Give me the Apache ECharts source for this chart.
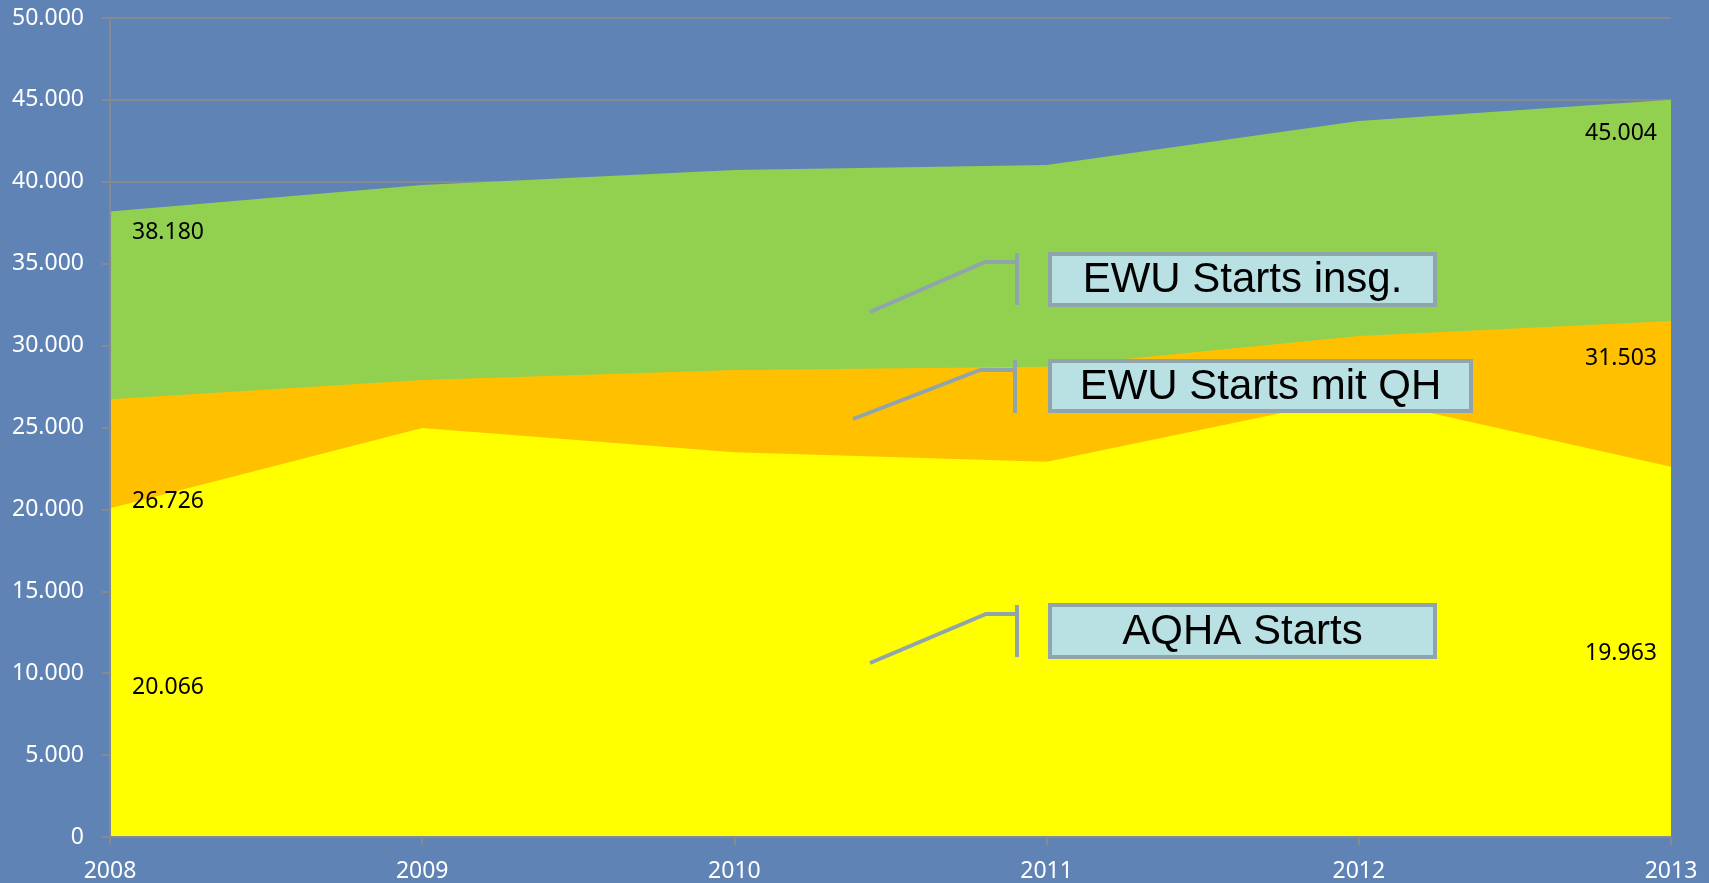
<!DOCTYPE html>
<html>
<head>
<meta charset="utf-8">
<script src="https://cdn.jsdelivr.net/npm/echarts@6/dist/echarts.min.js"></script>
<style>
html,body{margin:0;padding:0;background:#5f83b5;}
#chart{width:1709px;height:883px;}
</style>
</head>
<body>
<div id="chart"></div>
<script>
// ---- data ----
const years = ['2008', '2009', '2010', '2011', '2012', '2013'];
const ewuTotal = [38180, 39810, 40720, 41030, 43710, 45004];
const ewuQH = [26726, 27900, 28510, 28710, 30590, 31503];
const aqha = [20066, 24970, 23490, 22910, 26860, 22600];
const seriesNames = ['EWU Starts insg.', 'EWU Starts mit QH', 'AQHA Starts'];
const firstLabels = [38180, 26726, 20066];
const lastLabels = [45004, 31503, 19963];

function fmt(v) { return String(v).replace(/\B(?=(\d{3})+(?!\d))/g, '.'); }

const chart = echarts.init(document.getElementById('chart'));
const axisGray = '#858a92';
const labelFont = '"Noto Sans", "Open Sans", sans-serif';
const boxFont = '"Liberation Sans", Arial, sans-serif';

const option = {
  backgroundColor: '#5f83b5',
  animation: false,
  grid: { left: 110, right: 38, top: 18, bottom: 46, containLabel: false },
  xAxis: {
    type: 'category',
    data: years,
    boundaryGap: false,
    z: 10,
    axisLine: { show: true, lineStyle: { color: axisGray, width: 2 } },
    axisTick: { show: true, length: 8, lineStyle: { color: axisGray, width: 2 } },
    axisLabel: { color: '#ffffff', fontSize: 23, fontFamily: labelFont, margin: 23 },
    splitLine: { show: false }
  },
  yAxis: [{
    type: 'value',
    min: 0, max: 50000, interval: 5000,
    axisLine: { show: false },
    axisTick: { show: true, length: 8, lineStyle: { color: axisGray, width: 2 } },
    axisLabel: { color: '#ffffff', fontSize: 23, fontFamily: labelFont, margin: 26, formatter: fmt },
    splitLine: { show: true, lineStyle: { color: axisGray, width: 2 } }
  }, {
    type: 'value', position: 'left',
    min: 0, max: 50000, interval: 5000, z: 10,
    axisLine: { show: true, lineStyle: { color: axisGray, width: 2 } },
    axisTick: { show: false }, axisLabel: { show: false }, splitLine: { show: false }
  }],
  series: [
    { name: seriesNames[0], type: 'line', data: ewuTotal, symbol: 'none',
      lineStyle: { width: 0 }, areaStyle: { color: '#92d050', opacity: 1 }, z: 2 },
    { name: seriesNames[1], type: 'line', data: ewuQH, symbol: 'none',
      lineStyle: { width: 0 }, areaStyle: { color: '#ffc000', opacity: 1 }, z: 3 },
    { name: seriesNames[2], type: 'line', data: aqha, symbol: 'none',
      lineStyle: { width: 0 }, areaStyle: { color: '#ffff00', opacity: 1 }, z: 4 }
  ]
};
chart.setOption(option);

// ---- annotations ----
const lineColor = '#8fa5ab';
const firstY = [230, 499, 685];
const lastY = [131, 356, 651];
const callouts = [
  { pts: [[870, 312], [985, 262], [1017, 262]], bar: [1017, 253, 305], box: [1050, 254, 385, 51] },
  { pts: [[853, 419], [980, 370], [1015, 370]], bar: [1015, 360, 413], box: [1050, 361, 421, 50] },
  { pts: [[870, 663], [986, 614], [1017, 614]], bar: [1017, 605, 657], box: [1050, 605, 385, 52] }
];
const x0 = chart.convertToPixel({ xAxisIndex: 0 }, years[0]);
const x1 = chart.convertToPixel({ xAxisIndex: 0 }, years[years.length - 1]);
const g = [];
firstLabels.forEach((v, i) => {
  g.push({ type: 'text', left: x0 + 22, top: firstY[i] - 9, z: 100,
    style: { text: fmt(v), fill: '#000', font: '23px ' + labelFont } });
});
lastLabels.forEach((v, i) => {
  g.push({ type: 'text', right: 1709 - x1 + 14, top: lastY[i] - 9, z: 100,
    style: { text: fmt(v), fill: '#000', font: '23px ' + labelFont } });
});
callouts.forEach((c, i) => {
  g.push({ type: 'polyline', z: 100, shape: { points: c.pts },
    style: { stroke: lineColor, lineWidth: 4, fill: null } });
  g.push({ type: 'line', z: 100, shape: { x1: c.bar[0], y1: c.bar[1], x2: c.bar[0], y2: c.bar[2] },
    style: { stroke: lineColor, lineWidth: 4 } });
  g.push({ type: 'rect', z: 100, shape: { x: c.box[0], y: c.box[1], width: c.box[2], height: c.box[3] },
    style: { fill: '#b9e0e3', stroke: lineColor, lineWidth: 4 } });
  g.push({ type: 'text', z: 101, x: c.box[0] + c.box[2] / 2, y: c.box[1] + c.box[3] / 2 + 1,
    style: { text: seriesNames[i], fill: '#000', font: '42px ' + boxFont, align: 'center', verticalAlign: 'middle' } });
});
chart.setOption({ graphic: g });
</script>
</body>
</html>
